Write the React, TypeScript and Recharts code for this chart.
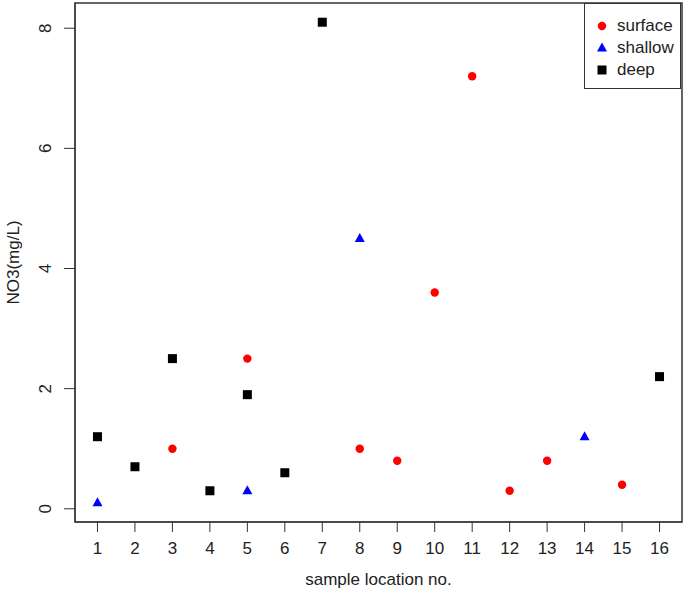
import { ScatterChart, Scatter, XAxis, YAxis, Legend, ReferenceArea } from 'recharts';

const locations = [1, 2, 3, 4, 5, 6, 7, 8, 9, 10, 11, 12, 13, 14, 15, 16];
const yTicks = [0, 2, 4, 6, 8];

const surfaceX = [3, 5, 8, 9, 10, 11, 12, 13, 15];
const surfaceY = [1.0, 2.5, 1.0, 0.8, 3.6, 7.2, 0.3, 0.8, 0.4];
const shallowX = [1, 5, 8, 14];
const shallowY = [0.1, 0.3, 4.5, 1.2];
const deepX = [1, 2, 3, 4, 5, 6, 7, 16];
const deepY = [1.2, 0.7, 2.5, 0.3, 1.9, 0.6, 8.1, 2.2];

const toPoints = (xs: number[], ys: number[]) => xs.map((x, i) => ({ x, y: ys[i] }));
const surface = toPoints(surfaceX, surfaceY);
const shallow = toPoints(shallowX, shallowY);
const deep = toPoints(deepX, deepY);

const FONT = '"Liberation Sans", Arial, sans-serif';
const AXIS = '#333';
const FS = 17;

const Circle = ({ cx, cy }: any) => <circle cx={cx} cy={cy} r={4.2} fill="#ff0000" />;
const Tri = ({ cx, cy }: any) => (
  <polygon points={`${cx},${cy - 5.5} ${cx - 5},${cy + 3.5} ${cx + 5},${cy + 3.5}`} fill="#0000ff" />
);
const Square = ({ cx, cy }: any) => <rect x={cx - 4.5} y={cy - 4.5} width={9} height={9} fill="#000" />;

const YTick = ({ x, y, payload }: any) => (
  <text
    x={x}
    y={y}
    dy="0.35em"
    transform={`rotate(-90, ${x}, ${y})`}
    textAnchor="middle"
    fontFamily={FONT}
    fontSize={FS}
    fill="#222"
  >
    {payload.value}
  </text>
);

const legendItems = [
  { name: 'surface', sym: <circle cx={7} cy={7} r={4.2} fill="#ff0000" /> },
  { name: 'shallow', sym: <polygon points="7,1.5 2,10.5 12,10.5" fill="#0000ff" /> },
  { name: 'deep', sym: <rect x={2.5} y={2.5} width={9} height={9} fill="#000" /> },
];

const LegendBox = () => (
  <div
    style={{
      border: `1px solid ${AXIS}`,
      width: 97,
      height: 86,
      boxSizing: 'border-box',
      padding: '11px 0 0 10px',
      fontFamily: FONT,
      fontSize: FS,
      color: '#222',
      background: '#fff',
    }}
  >
    {legendItems.map((it) => (
      <div key={it.name} style={{ display: 'flex', alignItems: 'center', height: 22 }}>
        <svg width={14} height={14} style={{ marginRight: 8 }}>
          {it.sym}
        </svg>
        <span>{it.name}</span>
      </div>
    ))}
  </div>
);

export default function App() {
  return (
    <div style={{ position: 'absolute', left: 0, top: 0, background: '#fff' }}>
      <ScatterChart width={685} height={599} margin={{ top: 3, right: 3, bottom: 0, left: 0 }}>
        <XAxis
          type="number"
          dataKey="x"
          domain={[0.4, 16.6]}
          ticks={locations}
          interval={0}
          allowDataOverflow
          height={77}
          tickSize={10}
          tickMargin={10}
          stroke={AXIS}
          tick={{ fill: '#222', fontFamily: FONT, fontSize: FS }}
          label={{
            content: ({ viewBox }: any) => (
              <text
                x={viewBox.x + viewBox.width / 2}
                y={viewBox.y + 63}
                textAnchor="middle"
                fontFamily={FONT}
                fontSize={FS}
                fill="#222"
              >
                sample location no.
              </text>
            ),
          }}
        />
        <YAxis
          type="number"
          dataKey="y"
          domain={[-0.22, 8.42]}
          ticks={yTicks}
          allowDataOverflow
          width={75}
          tickSize={11}
          tickMargin={19}
          stroke={AXIS}
          tick={<YTick />}
          label={{
            content: ({ viewBox }: any) => {
              const cx = 13;
              const cy = viewBox.y + viewBox.height / 2;
              return (
                <text
                  x={cx}
                  y={cy}
                  dy="0.35em"
                  transform={`rotate(-90, ${cx}, ${cy})`}
                  textAnchor="middle"
                  fontFamily={FONT}
                  fontSize={FS}
                  fill="#222"
                >
                  NO3(mg/L)
                </text>
              );
            },
          }}
        />
        <ReferenceArea x1={0.4} x2={16.6} y1={-0.22} y2={8.42} fill="none" stroke={AXIS} strokeWidth={1.5} />
        <Legend
          layout="vertical"
          align="center"
          verticalAlign="middle"
          content={<LegendBox />}
          wrapperStyle={{ position: 'absolute', top: 3, left: 584, right: 'auto', bottom: 'auto', width: 97 }}
        />
        <Scatter name="surface" data={surface} shape={<Circle />} isAnimationActive={false} />
        <Scatter name="shallow" data={shallow} shape={<Tri />} isAnimationActive={false} />
        <Scatter name="deep" data={deep} shape={<Square />} isAnimationActive={false} />
      </ScatterChart>
    </div>
  );
}
